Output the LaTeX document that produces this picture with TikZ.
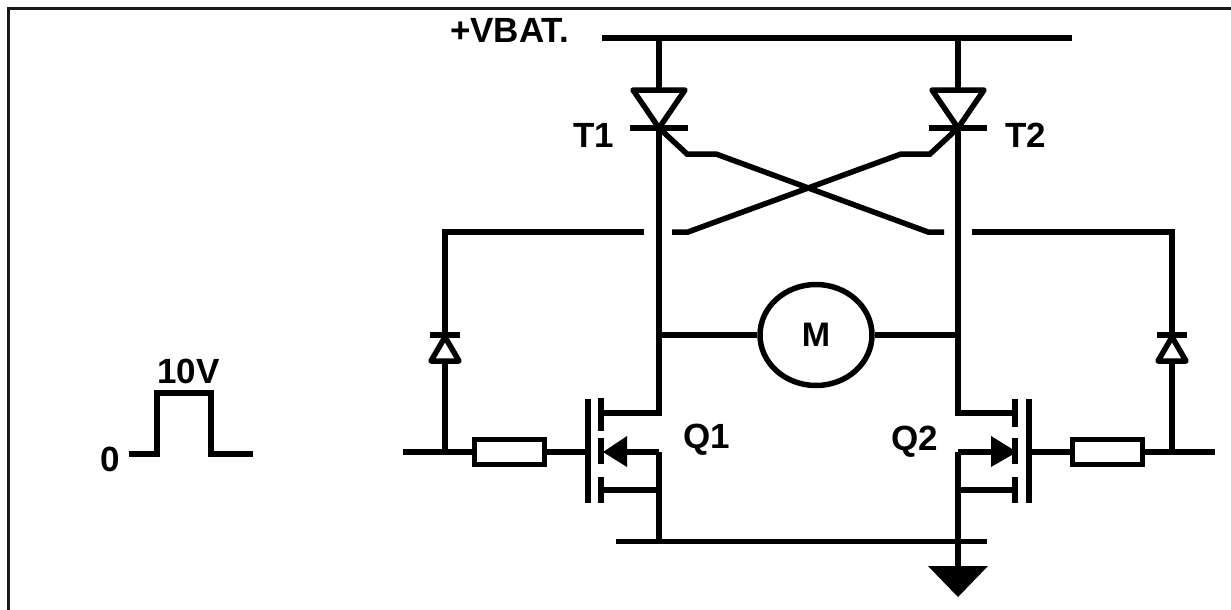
\documentclass[tikz,border=0pt]{standalone}
\usepackage{fontspec}
\setmainfont{Liberation Sans}
\usetikzlibrary{shapes.geometric}
\tikzset{
    wire/.style={line width=5.5pt},
    device/.style={wire,line join=round},
    lbl/.style={inner sep=0pt,anchor=base west,font=\bfseries\fontsize{35}{35}\selectfont},
    resistor/.style={draw,wire,fill=white,inner sep=0pt,minimum width=70pt,minimum height=25pt},
    motor/.style={draw,wire,ellipse,inner sep=0pt,minimum width=112pt,minimum height=101pt,font=\bfseries\fontsize{34}{34}\selectfont}
}
\begin{document}
\begin{tikzpicture}[x=1pt,y=-1pt]
    \useasboundingbox (0,0) rectangle (1231,610);
    \draw[line width=2.5pt,black!90] (8.5,610) -- (8.5,8.5) -- (1231,8.5);
    % pulse
    \node[lbl] (zero) at (100,471) {0};
    \node[lbl] (high) at (157,383) {10V};
    \draw[wire] (129,454) -- (157,454) -- (157,393) -- (211,393) -- (211,454) -- (253,454);
    % supply and return
    \node[lbl] (vbat) at (450,43) {+VBAT.};
    \coordinate (busA) at (602,38);
    \coordinate (busB) at (1072,38);
    \coordinate (topL) at (659,38);
    \coordinate (topR) at (958,38);
    \coordinate (gndA) at (616,541.5);
    \coordinate (gndB) at (987,541.5);
    \coordinate (gndL) at (659,541.5);
    \coordinate (gndR) at (958,541.5);
    \draw[wire] (busA) -- (busB);
    \draw[wire] (gndA) -- (gndB);
    % thyristors
    \node[lbl] (tOne) at (573,147) {T1};
    \node[lbl] (tTwo) at (1005,147) {T2};
    \coordinate (baseL) at (659,90);
    \coordinate (baseR) at (958,90);
    \coordinate (tipL) at (659,128);
    \coordinate (tipR) at (958,128);
    \draw[device] (633,90) -- (685,90) -- (tipL) -- cycle;
    \draw[device] (932,90) -- (984,90) -- (tipR) -- cycle;
    \draw[wire] (630,128) -- (688,128);
    \draw[wire] (929,128) -- (987,128);
    \draw[wire] (topL) -- (baseL);
    \draw[wire] (topR) -- (baseR);
    % motor and bridge
    \node[motor] (mot) at (816,335) {M};
    \coordinate (midL) at (659,335);
    \coordinate (midR) at (958,335);
    \coordinate (drainL) at (659,413);
    \coordinate (drainR) at (958,413);
    \draw[wire] (midL) -- (mot);
    \draw[wire] (mot) -- (midR);
    \draw[wire] (tipL) -- (drainL) -- (601,413);
    \draw[wire] (tipR) -- (drainR) -- (1015,413);
    % gate cross links
    \draw[wire] (tipL) -- (687,154) -- (716,154) -- (928,232) -- (944,232);
    \draw[wire] (tipR) -- (930,154) -- (901,154) -- (688,232) -- (672,232);
    % gate feeds
    \coordinate (feedL) at (445,232);
    \coordinate (feedR) at (1172,232);
    \coordinate (dioL) at (445,337);
    \coordinate (dioR) at (1172,337);
    \coordinate (inL) at (445,452);
    \coordinate (inR) at (1172,452);
    \draw[wire] (644,232) -- (feedL) -- (dioL);
    \draw[wire] (972,232) -- (feedR) -- (dioR);
    \draw[wire] (430,335) -- (460,335);
    \draw[wire] (1157,335) -- (1187,335);
    \draw[device,fill=white] (dioL) -- (459,361) -- (431,361) -- cycle;
    \draw[device,fill=white] (dioR) -- (1186,361) -- (1158,361) -- cycle;
    \draw[wire] (445,361) -- (inL);
    \draw[wire] (1172,361) -- (inR);
    % Q1
    \node[lbl] (qOne) at (683,448) {Q1};
    \node[resistor] (rOne) at (509.5,452) {};
    \coordinate (gateL) at (588,452);
    \coordinate (srcL) at (659,452);
    \draw[wire] (403,452) -- (rOne);
    \draw[wire] (rOne) -- (gateL);
    \draw[wire] (588,399) -- (588,503);
    \draw[wire] (601,398) -- (601,431);
    \draw[wire] (601,438) -- (601,464);
    \draw[wire] (601,477) -- (601,503);
    \draw[wire] (srcL) -- (gndL);
    \draw[wire] (srcL) -- (625,452);
    \draw[wire] (601,490) -- (659,490);
    \fill (603,452) -- (627,436) -- (627,467) -- cycle;
    % Q2
    \node[lbl] (qTwo) at (891,450) {Q2};
    \node[resistor] (rTwo) at (1107.5,452) {};
    \coordinate (gateR) at (1029,452);
    \coordinate (srcR) at (958,452);
    \draw[wire] (1215,452) -- (rTwo);
    \draw[wire] (rTwo) -- (gateR);
    \draw[wire] (1029,399) -- (1029,503);
    \draw[wire] (1015,399) -- (1015,427);
    \draw[wire] (1015,438) -- (1015,464);
    \draw[wire] (1015,477) -- (1015,503);
    \draw[wire] (srcR) -- (gndR);
    \draw[wire] (srcR) -- (992,452);
    \draw[wire] (958,490) -- (1015,490);
    \fill (1017,452) -- (991,436) -- (991,467) -- cycle;
    % ground
    \coordinate (earth) at (958,566);
    \draw[wire] (gndR) -- (earth);
    \fill (928,566) -- (988,566) -- (958,597) -- cycle;
\end{tikzpicture}
\end{document}
